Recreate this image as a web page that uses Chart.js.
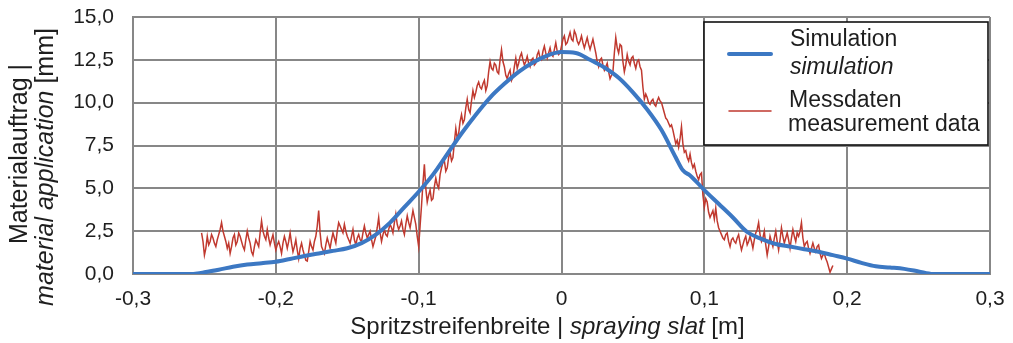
<!DOCTYPE html>
<html>
<head>
<meta charset="utf-8">
<script src="https://cdn.jsdelivr.net/npm/chart.js@4"></script>
<style>
  body { margin: 0; background: #fff; }
  #wrap { width: 1013px; height: 343px; }
</style>
</head>
<body>
<div id="wrap"><canvas id="myChart" width="1013" height="343"></canvas></div>
<script>
// simulation curve
const simX = [-0.30, -0.29, -0.28, -0.27, -0.26, -0.255, -0.25, -0.24, -0.23, -0.22, -0.21, -0.20,
  -0.19, -0.18, -0.17, -0.16, -0.15, -0.14, -0.13, -0.12, -0.11, -0.10, -0.09, -0.08, -0.07,
  -0.06, -0.05, -0.04, -0.03, -0.02, -0.01, 0.00, 0.01, 0.02, 0.03, 0.04, 0.05, 0.06, 0.07,
  0.08, 0.085, 0.09, 0.10, 0.11, 0.12, 0.13, 0.14, 0.15, 0.16, 0.17, 0.18, 0.19, 0.20, 0.21,
  0.22, 0.23, 0.24, 0.25, 0.26, 0.27, 0.28, 0.29, 0.30];
const simY = [0, 0, 0, 0, 0, 0.03, 0.1, 0.25, 0.42, 0.55, 0.63, 0.72,
  0.88, 1.05, 1.2, 1.35, 1.5, 1.8, 2.3, 3.0, 3.9, 4.8, 5.8, 7.0, 8.2,
  9.3, 10.3, 11.1, 11.8, 12.35, 12.75, 12.95, 12.9, 12.5, 12.05, 11.45, 10.6, 9.6, 8.4,
  6.8, 6.05, 5.75, 4.9, 4.1, 3.3, 2.45, 2.05, 1.75, 1.6, 1.45, 1.3, 1.1, 0.9, 0.65,
  0.45, 0.38, 0.3, 0.15, 0, 0, 0, 0, 0];

// measurement data, sampled every 1 mm from -0.252 m
const measStart = -0.252;
const measStep = 0.001;
const measY = [
  2.4, 1.9, 1.1, 1.5, 2.2, 1.7, 1.9, 2.3, 2.1, 1.8, 1.6, 2.0, 2.3, 2.6, 3.0, 2.5, 2.2, 1.9, 1.5, 1.8,
  1.2, 1.6, 2.1, 2.3, 1.7, 1.9, 2.4, 2.2, 1.9, 1.6, 1.4, 2.0, 2.5, 2.1, 1.8, 1.3, 1.1, 1.6, 2.0, 1.8,
  1.6, 2.4, 3.1, 2.5, 2.2, 2.0, 2.6, 2.1, 1.7, 2.0, 2.3, 1.8, 1.4, 1.7, 1.9, 1.6, 1.2, 1.8, 2.2, 1.9,
  1.5, 1.9, 2.4, 1.8, 1.3, 1.6, 2.0, 1.4, 0.9, 1.5, 1.8, 1.4, 1.1, 0.8, 0.75, 1.3, 1.9, 1.6, 1.4, 1.9,
  2.2, 2.8, 3.7, 2.4, 1.6, 1.4, 1.2, 1.7, 2.1, 1.8, 1.5, 2.0, 2.4, 2.1, 1.8, 2.5, 3.0, 2.8, 2.6, 2.4,
  2.9, 2.5, 2.2, 2.0,
  1.8, 2.2, 2.6, 2.0, 1.7, 2.1, 2.3, 2.0, 1.9, 2.4, 2.8, 2.4, 2.1, 2.3, 2.5, 2.0, 1.6, 1.9, 2.2, 2.7,
  3.3, 2.4, 1.9, 2.3, 2.6, 2.3, 2.2, 2.6, 2.9, 2.7, 2.4, 3.0, 3.5, 2.9, 2.6, 2.8, 3.1, 2.6, 2.3, 2.9,
  3.4, 3.0, 2.7, 3.2, 3.7, 3.3, 2.9, 2.2, 1.6, 2.8,
  4.0, 5.3, 6.4, 5.0, 4.2, 4.6, 4.9, 4.3, 4.4, 5.1, 5.6, 5.2, 5.0, 5.8, 6.2, 6.5, 6.6, 6.0, 6.2, 6.8,
  7.1, 6.6, 6.8, 7.7, 8.5, 7.9, 8.2, 8.9, 9.3, 8.8, 9.0, 9.7, 10.2, 9.6, 9.4, 10.1, 10.7, 10.3, 10.6, 11.0,
  11.2, 10.9, 10.8, 11.1, 11.3, 10.7, 11.0, 11.8, 12.4, 12.0, 11.9, 12.3, 12.2, 11.8, 11.7, 12.5, 13.1, 12.4, 12.1, 11.6,
  11.4, 11.7, 11.9, 11.3, 11.5, 12.1, 12.6, 12.0, 12.3, 12.7, 12.9, 12.5, 12.2, 12.4, 12.7, 12.3, 12.1, 12.5, 12.6, 12.2,
  12.3, 12.8, 13.0, 12.6, 12.5, 13.0, 13.3, 12.9, 12.6, 12.9, 13.2, 12.8, 12.7, 13.1, 13.5, 13.0, 12.8, 12.9,
  13.3, 13.7, 13.9, 13.4, 13.5, 13.8, 14.1, 13.7, 13.6, 14.2, 14.0, 13.6, 13.4, 13.6, 13.9, 13.5, 13.2, 13.5, 13.8, 13.4,
  13.1, 13.4, 13.7, 13.3, 12.9, 12.4, 12.1, 12.5, 12.6, 12.2, 11.9, 12.1, 12.3, 11.8, 11.4, 11.6, 11.8, 12.9, 13.8, 13.2,
  12.9, 13.4, 13.3, 12.4, 11.8, 12.2, 12.8, 12.4, 12.2, 12.6, 12.7, 12.3, 12.0, 12.4, 12.5, 12.1, 11.9, 10.9, 10.2, 10.5,
  10.3, 10.0, 9.9, 10.1, 10.2, 9.9, 9.8, 10.1, 10.3, 10.1, 10.0, 9.7, 9.4, 9.1, 9.0, 8.8, 8.6, 8.7, 8.4, 8.0,
  7.6, 7.8, 7.4, 7.9, 8.6, 7.6, 7.1, 7.2, 6.8, 6.6, 7.0, 6.5, 6.2, 6.4, 6.0, 5.7, 5.5, 5.8, 5.9, 4.6,
  3.9, 4.4, 4.2, 3.6, 3.3, 3.5, 3.7, 3.2, 3.85, 3.1, 2.7, 2.5, 2.3, 2.1, 2.0, 2.3, 2.4, 1.9, 1.6, 2.0,
  2.1, 1.9, 1.8, 2.1, 2.3, 1.8, 1.4, 1.7, 2.0, 2.2, 1.7, 1.9, 2.2, 1.9, 1.5, 2.0, 2.4, 2.6, 3.0, 2.3,
  1.9, 2.1, 2.5, 1.7, 1.1, 1.6, 2.2, 1.9, 1.6, 2.1, 2.5, 1.9, 1.4, 2.0, 2.7, 2.2, 1.8, 2.1, 2.4, 2.0,
  1.5, 2.1, 2.6, 2.2, 1.9, 2.4, 2.2, 2.5, 3.0, 2.1, 1.6, 1.8, 1.9, 1.5, 1.2, 1.5, 1.8, 1.5, 1.3, 1.6,
  1.7, 1.2, 0.9, 1.1, 1.2, 0.9, 0.7, 0.4, 0.1, 0.3, 0.5
];

const xTicks = [-0.3, -0.2, -0.1, 0, 0.1, 0.2, 0.3];
const yTicks = [0, 2.5, 5, 7.5, 10, 12.5, 15];

const BLUE = "#3c78c3";
const RED = "#c0392f";
const GRID = "#878787";
const TEXT = "#1e1e1e";
const FONT = "'Liberation Sans', Arial, sans-serif";

const simData = simX.map((x, i) => ({ x: x, y: simY[i] }));
const measData = measY.map((y, i) => ({ x: measStart + i * measStep, y: y }));

function comma(v, digits) {
  return v.toFixed(digits).replace(".", ",");
}

const boxLegend = {
  id: "boxLegend",
  afterDraw(chart) {
    const ctx = chart.ctx;
    const a = chart.chartArea;
    const left = a.right - 286, top = a.top + 5, w = 284, h = 123;
    ctx.save();
    ctx.fillStyle = "#fff";
    ctx.fillRect(left, top, w, h);
    ctx.strokeStyle = "#111";
    ctx.lineWidth = 1.6;
    ctx.strokeRect(left, top, w, h);

    ctx.lineCap = "round";
    ctx.strokeStyle = BLUE;
    ctx.lineWidth = 4;
    ctx.beginPath(); ctx.moveTo(left + 25, top + 32); ctx.lineTo(left + 67, top + 32); ctx.stroke();
    ctx.strokeStyle = RED;
    ctx.lineWidth = 1.5;
    ctx.beginPath(); ctx.moveTo(left + 25, top + 89); ctx.lineTo(left + 67, top + 89); ctx.stroke();

    ctx.fillStyle = TEXT;
    ctx.textAlign = "left";
    ctx.textBaseline = "alphabetic";
    ctx.font = "23px " + FONT;
    ctx.fillText("Simulation", left + 86, top + 24);
    ctx.fillText("Messdaten", left + 85, top + 85);
    ctx.fillText("measurement data", left + 84, top + 109);
    ctx.font = "italic 23px " + FONT;
    ctx.fillText("simulation", left + 86, top + 52);
    ctx.restore();
  }
};

function drawPieces(ctx, pieces, cx, cy) {
  let total = 0;
  pieces.forEach(p => { ctx.font = p[1]; total += ctx.measureText(p[0]).width; });
  let x = cx - total / 2;
  pieces.forEach(p => {
    ctx.font = p[1];
    ctx.fillText(p[0], x, cy);
    x += ctx.measureText(p[0]).width;
  });
}

const axisTitles = {
  id: "axisTitles",
  afterDraw(chart) {
    const ctx = chart.ctx;
    const a = chart.chartArea;
    ctx.save();
    ctx.fillStyle = TEXT;
    ctx.textAlign = "left";
    ctx.textBaseline = "alphabetic";
    const n = "24px " + FONT, it = "italic 24px " + FONT;
    drawPieces(ctx, [["Spritzstreifenbreite | ", n], ["spraying slat", it], [" [m]", n]],
      (a.left + a.right) / 2 - 14, 334);

    ctx.save();
    ctx.translate(27, 154);
    ctx.rotate(-Math.PI / 2);
    drawPieces(ctx, [["Materialauftrag |", "25px " + FONT]], 0, 0);
    ctx.restore();
    ctx.save();
    ctx.translate(53, 167);
    ctx.rotate(-Math.PI / 2);
    drawPieces(ctx, [["material application", "italic 25px " + FONT], [" [mm]", "25px " + FONT]], 0, 0);
    ctx.restore();
    ctx.restore();
  }
};

const config = {
  type: "line",
  data: {
    datasets: [
      {
        label: "Simulation",
        data: simData,
        borderColor: BLUE,
        borderWidth: 4,
        pointRadius: 0,
        cubicInterpolationMode: "monotone",
        order: 0,
      },
      {
        label: "Messdaten",
        data: measData,
        borderColor: RED,
        borderWidth: 1.5,
        pointRadius: 0,
        tension: 0,
        order: 1,
      },
    ],
  },
  options: {
    responsive: false,
    animation: false,
    layout: { padding: { top: 17, right: 23, left: 0, bottom: 0 }, autoPadding: false },
    plugins: {
      legend: { display: false },
      tooltip: { enabled: false },
    },
    scales: {
      x: {
        type: "linear",
        min: -0.3,
        max: 0.3,
        afterFit: s => { s.height = 69; s.paddingLeft = 0; s.paddingRight = 0; },
        afterBuildTicks: s => { s.ticks = xTicks.map(v => ({ value: v })); },
        grid: { color: GRID, lineWidth: 2, drawTicks: false },
        border: { color: GRID, width: 2 },
        ticks: {
          padding: 13,
          color: TEXT,
          font: { family: FONT, size: 21 },
          callback: v => (Math.abs(v) < 1e-9 ? "0" : comma(v, 1)),
        },
      },
      y: {
        min: 0,
        max: 15,
        afterFit: s => { s.width = 133; s.paddingTop = 0; s.paddingBottom = 0; },
        afterBuildTicks: s => { s.ticks = yTicks.map(v => ({ value: v })); },
        grid: { color: GRID, lineWidth: 2, drawTicks: false },
        border: { color: GRID, width: 2 },
        ticks: {
          padding: 19,
          color: TEXT,
          font: { family: FONT, size: 21 },
          callback: v => comma(v, 1),
        },
      },
    },
  },
  plugins: [axisTitles, boxLegend],
};

const myChart = new Chart(document.getElementById("myChart"), config);
</script>
</body>
</html>
